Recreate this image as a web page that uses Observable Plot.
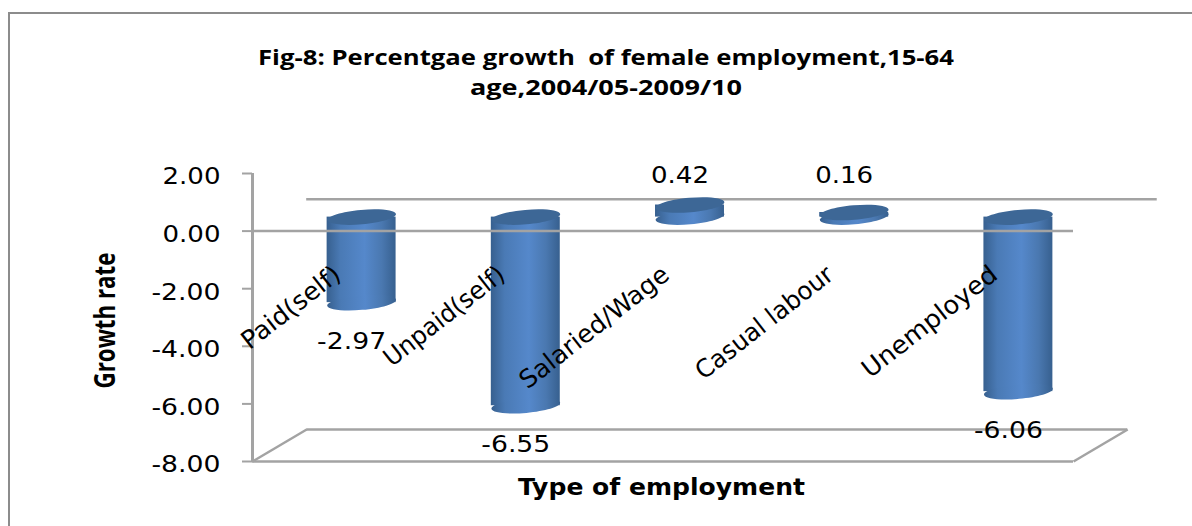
<!DOCTYPE html>
<html>
<head>
<meta charset="utf-8">
<script src="https://cdn.jsdelivr.net/npm/d3@7"></script>
<script src="https://cdn.jsdelivr.net/npm/@observablehq/plot@0.6"></script>
<style>
  html, body { margin: 0; padding: 0; background: #fff; }
  #chart { position: relative; width: 1192px; height: 526px; overflow: hidden; }
  #chart svg { position: absolute; left: 0; top: 0; }
  #panel { position: absolute; left: 8px; top: 12px; width: 1300px; height: 600px; border: 2px solid #8c8c8c; }
</style>
</head>
<body>
<div id="chart"><div id="panel"></div></div>
<script>
const categories = ["Paid(self)", "Unpaid(self)", "Salaried/Wage", "Casual labour", "Unemployed"];
const growth = [-2.97, -6.55, 0.42, 0.16, -6.06];
const yTicks = [2, 0, -2, -4, -6, -8];
const titleLines = ["Fig-8: Percentgae growth  of female employment,15-64", "age,2004/05-2009/10"];

// Oblique depth of the floor and back wall, in x and y data units.
const depthX = 0.33;
const depthY = 1.11;
const halfBar = 0.21;

const rows = categories.map((name, i) => ({name, i, value: growth[i]}));

// Slightly tilted ellipse used for the cylinder caps.
const cap = {
  draw(ctx, size) {
    const rx = Math.sqrt(size / Math.PI), ry = rx * 0.21, t = -5 * Math.PI / 180;
    const k = 0.5523;
    const p = (a, b) => [a * Math.cos(t) - b * Math.sin(t), a * Math.sin(t) + b * Math.cos(t)];
    ctx.moveTo(...p(rx, 0));
    ctx.bezierCurveTo(...p(rx, k * ry), ...p(k * rx, ry), ...p(0, ry));
    ctx.bezierCurveTo(...p(-k * rx, ry), ...p(-rx, k * ry), ...p(-rx, 0));
    ctx.bezierCurveTo(...p(-rx, -k * ry), ...p(-k * rx, -ry), ...p(0, -ry));
    ctx.bezierCurveTo(...p(k * rx, -ry), ...p(rx, -k * ry), ...p(rx, 0));
    ctx.closePath();
  }
};

const gridColor = "#a3a3a3";
const barShift = {dx: 27, dy: -14};

const gradient = () => {
  const svg = d3.create("svg:g");
  const g = svg.append("defs").append("linearGradient").attr("id", "cyl");
  [[0, "#37608f"], [0.2, "#4a7ab5"], [0.55, "#5588cb"], [0.8, "#4a78b0"], [1, "#37608f"]]
    .forEach(([o, c]) => g.append("stop").attr("offset", o).attr("stop-color", c));
  return svg.node();
};

const plot = Plot.plot({
  width: 1192,
  height: 526,
  marginLeft: 252,
  marginRight: 119,
  marginTop: 173,
  marginBottom: 65,
  style: {background: "transparent", fontFamily: "DejaVu Sans"},
  x: {type: "linear", domain: [0, 5], axis: null},
  y: {type: "linear", domain: [-8, 2], axis: null},
  marks: [
    gradient,
    // back wall zero line and floor outline
    Plot.ruleY([depthY], {x1: depthX, x2: 5.51, stroke: gridColor, strokeWidth: 2.5}),
    Plot.ruleY([-8 + depthY], {x1: depthX, x2: 5 + depthX, stroke: gridColor, strokeWidth: 2.5}),
    Plot.ruleY([-8], {x1: 0, x2: 5, stroke: gridColor, strokeWidth: 2.5}),
    Plot.link([0, 5], {x1: d => d, x2: d => d + depthX, y1: -8, y2: -8 + depthY, stroke: gridColor, strokeWidth: 2.5}),
    // cylinders
    Plot.rect(rows, {
      x1: d => d.i + 0.5 - halfBar, x2: d => d.i + 0.5 + halfBar,
      y1: 0, y2: "value", fill: "url(#cyl)", ...barShift
    }),
    Plot.dot(rows, {
      x: d => d.i + 0.5, y: d => Math.min(0, d.value), r: 34.5, symbol: cap,
      fill: "url(#cyl)", stroke: "none", ...barShift
    }),
    Plot.dot(rows, {
      x: d => d.i + 0.5, y: d => Math.max(0, d.value), r: 34.5, symbol: cap,
      fill: "#3d6796", stroke: "none", ...barShift
    }),
    // front zero line and axis
    Plot.ruleY([0], {x1: 0, x2: 5, stroke: gridColor, strokeWidth: 2.5}),
    Plot.ruleX([0], {y1: -8, y2: 2, stroke: gridColor, strokeWidth: 3}),
    Plot.axisY({
      ticks: yTicks, tickSize: 10, label: null, fill: "none", stroke: gridColor, strokeWidth: 2
    }),
    Plot.axisY({
      ticks: yTicks, tickFormat: d => d.toFixed(2), tickSize: 0, tickPadding: 32, dy: 3.5, label: null,
      fontSize: 23, fill: "#000", textStroke: "none"
    }),
    // category labels
    Plot.text(rows, {
      x: d => d.i + 0.5, y: -1.4, text: "name", textAnchor: "end", rotate: -38,
      dx: 3, fontSize: 25, fill: "#000"
    }),
    // value labels
    Plot.text(rows.filter(d => d.value < 0), {
      x: d => d.i + 0.5, y: "value", text: d => d.value.toFixed(2),
      dx: 17, dy: 24.5, fontSize: 23, fill: "#000"
    }),
    Plot.text(rows.filter(d => d.value >= 0), {
      x: d => d.i + 0.5, y: 2, text: d => d.value.toFixed(2),
      dx: 17, dy: 2, fontSize: 23, fill: "#000"
    }),
    // titles
    Plot.text([titleLines.join("\n")], {
      frameAnchor: "top", dx: -57, dy: -130, text: d => d, lineHeight: 1.43,
      fontWeight: "bold", fontSize: 21, fill: "#000", fontFamily: "Open Sans"
    }),
    Plot.text(["Type of employment"], {
      x: 2.5, y: -8, dy: 26, dx: -1.5, text: d => d, fontWeight: "bold", fontSize: 23, fill: "#000"
    }),
    Plot.text(["Growth rate"], {
      frameAnchor: "left", textAnchor: "middle", dx: -146, dy: 3, rotate: -90, text: d => d,
      fontWeight: "bold", fontSize: 28, fill: "#000", fontFamily: "Open Sans"
    })
  ]
});

// Text runs set wide or condensed to a fixed length.
const runLengths = new Map([
  ["Growth rate", 136], ["Type of employment", 287],
  [titleLines[0], 696], [titleLines[1], 272],
  ["Paid(self)", 118], ["Unpaid(self)", 146], ["Salaried/Wage", 182], ["Casual labour", 167], ["Unemployed", 164]
]);
const runLength = t => /^-?\d\.\d\d$/.test(t) ? (t[0] === "-" ? 69 : 58) : runLengths.get(t);
d3.select(plot).selectAll("text, tspan").each(function() {
  if (this.children.length) return;
  const len = runLength(this.textContent);
  if (len) d3.select(this).attr("textLength", len).attr("lengthAdjust", "spacingAndGlyphs");
});

document.getElementById("chart").appendChild(plot);
</script>
</body>
</html>
